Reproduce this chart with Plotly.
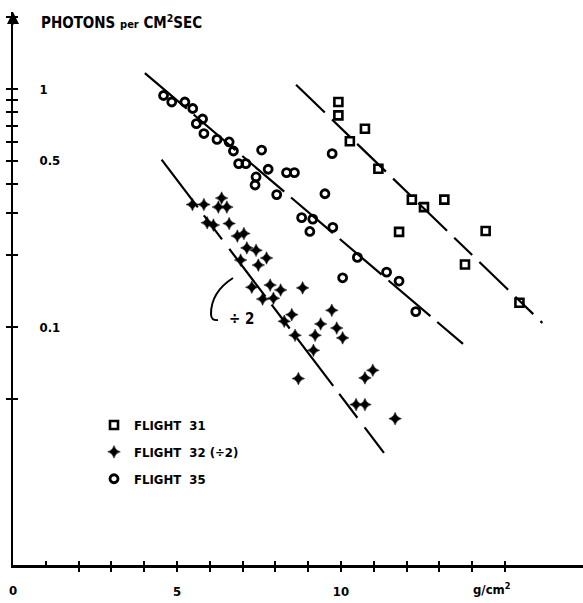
import plotly.graph_objects as go

# ---------------- data ----------------
f31_x = [9.92, 9.92, 10.73, 10.27, 11.14, 12.16, 12.53, 13.15, 11.77, 14.41, 13.78, 15.44]
f31_y = [0.882, 0.775, 0.681, 0.603, 0.462, 0.343, 0.319, 0.343, 0.251, 0.253, 0.183, 0.1265]

f32_x = [5.47, 5.82, 6.36, 6.26, 6.52, 5.92, 6.11, 6.59, 6.84, 7.04, 7.13, 7.41,
         6.94, 7.73, 7.48, 7.84, 7.28, 8.16, 7.61, 7.94, 8.83, 9.72, 8.50, 8.27,
         9.38, 9.87, 10.05, 8.60, 9.21, 9.16, 10.97, 10.73, 8.70, 10.46, 10.73, 11.65]
f32_y = [0.327, 0.327, 0.348, 0.319, 0.319, 0.274, 0.268, 0.272, 0.241, 0.247, 0.215, 0.210,
         0.191, 0.195, 0.182, 0.150, 0.147, 0.143, 0.131, 0.132, 0.146, 0.1175, 0.1127, 0.1057,
         0.103, 0.099, 0.090, 0.0923, 0.0923, 0.0798, 0.0658, 0.0611, 0.0607, 0.0472, 0.0472, 0.0412]

f35_x = [4.59, 4.84, 5.24, 5.48, 5.78, 5.59, 5.82, 6.22, 6.59, 6.72, 6.88, 7.10,
         7.58, 7.78, 7.41, 7.38, 8.34, 8.58, 8.04, 9.51, 8.80, 9.14, 9.05, 9.75,
         10.50, 10.05, 11.39, 11.77, 12.28, 9.73]
f35_y = [0.939, 0.882, 0.882, 0.828, 0.748, 0.715, 0.650, 0.614, 0.599, 0.549, 0.486, 0.486,
         0.554, 0.460, 0.427, 0.395, 0.445, 0.445, 0.360, 0.363, 0.288, 0.284, 0.252, 0.262,
         0.196, 0.161, 0.170, 0.156, 0.116, 0.535]

# fitted lines (end points)
fit31_x = [8.63, 16.14]
fit31_y = [1.042, 0.104]
fit32_x = [4.53, 11.31]
fit32_y = [0.505, 0.0296]
fit35_x = [4.02, 13.72]
fit35_y = [1.167, 0.0849]

x_tickvals = list(range(0, 16))
x_ticktext = ["5" if v == 5 else "10" if v == 10 else "" for v in x_tickvals]
x_zero_label = "0"
y_tickvals = [2, 1, 0.9, 0.8, 0.7, 0.6, 0.5, 0.4, 0.3, 0.2, 0.1, 0.05]
y_ticktext = ["", "1", "", "", "", "", "0.5", "", "", "", "0.1", ""]

# ---------------- figure ----------------
FONT = "DejaVu Sans Condensed, Liberation Sans Narrow, Roboto Condensed, sans-serif"
W, H = 583, 603
ML, MR, MT, MB = 13, 0, 12, 38
PX_PER_X = 32.8
PX_PER_DEC = 238.0
plot_w = W - ML - MR
plot_h = H - MT - MB
x_max = plot_w / PX_PER_X
y_top = -2 + plot_h / PX_PER_DEC

fig = go.Figure()

for fx, fy, dash in [(fit35_x, fit35_y, "55px,9px"),
                     (fit31_x, fit31_y, "40px,10px,25px,10px"),
                     (fit32_x, fit32_y, "60px,10px,30px,12px")]:
    fig.add_trace(go.Scatter(x=fx, y=fy, mode="lines",
                             line=dict(color="black", width=2.2, dash=dash),
                             showlegend=False, hoverinfo="skip"))

fig.add_trace(go.Scatter(x=f31_x, y=f31_y, mode="markers", name="FLIGHT  31",
                         legendgroup="a",
                         marker=dict(symbol="square-open", size=8, color="black",
                                     line=dict(width=2.6, color="black"))))
fig.add_trace(go.Scatter(x=f32_x, y=f32_y, mode="markers", name="FLIGHT  32 (÷2)",
                         legendgroup="b",
                         marker=dict(symbol="star-diamond", size=9, color="black",
                                     line=dict(width=0.5, color="black"))))
fig.add_trace(go.Scatter(x=f35_x, y=f35_y, mode="markers", name="FLIGHT  35",
                         legendgroup="c",
                         marker=dict(symbol="circle-open", size=8, color="black",
                                     line=dict(width=2.8, color="black"))))

# dummy trace for overlay axes (tick marks on the other side)
fig.add_trace(go.Scatter(x=[], y=[], xaxis="x2", yaxis="y2", showlegend=False))

def px_to_paper(px, py):
    return (px - ML) / plot_w, (H - MB - py) / plot_h

tx, ty = px_to_paper(39, 22)
fig.add_annotation(x=tx, y=ty, xref="paper", yref="paper", xanchor="left", yanchor="middle",
                   showarrow=False,
                   text="PHOTONS <span style='font-size:11px'>per</span> CM<sup>2</sup>SEC",
                   font=dict(family=FONT, size=15, color="black", weight="bold"))

zx, zy = px_to_paper(14, 590)
fig.add_annotation(x=0, y=zy, xref="x", yref="paper", xanchor="center", yanchor="middle",
                   showarrow=False, text=x_zero_label,
                   font=dict(family=FONT, size=13, color="black", weight="bold"))

gx, gy = px_to_paper(492, 589)
fig.add_annotation(x=gx, y=gy, xref="paper", yref="paper", xanchor="center", yanchor="middle",
                   showarrow=False, text="g/cm<sup>2</sup>",
                   font=dict(family=FONT, size=13, color="black", weight="bold"))

dx, dy = px_to_paper(241, 319)
fig.add_annotation(x=dx, y=dy, xref="paper", yref="paper", xanchor="center", yanchor="middle",
                   showarrow=False, text="÷ 2",
                   font=dict(family=FONT, size=15, color="black", weight="bold"))

# brace next to ÷2
p0 = px_to_paper(233, 278)
c1 = px_to_paper(211, 292)
p1 = px_to_paper(211, 314)
c2 = px_to_paper(211, 321)
p2 = px_to_paper(218, 320)
path = (f"M {p0[0]},{p0[1]} Q {c1[0]},{c1[1]} {p1[0]},{p1[1]} "
        f"Q {c2[0]},{c2[1]} {p2[0]},{p2[1]}")
fig.add_shape(type="path", path=path, xref="paper", yref="paper",
              line=dict(color="black", width=2))

# arrow at top of y axis
fig.add_annotation(x=0, y=1, xref="x", yref="paper", ax=0, ay=14, showarrow=True,
                   arrowhead=2, arrowsize=1.2, arrowwidth=2, arrowcolor="black", text="")

lx, ly = px_to_paper(94, 410)
fig.update_layout(
    width=W, height=H,
    margin=dict(l=ML, r=MR, t=MT, b=MB, pad=0),
    paper_bgcolor="white", plot_bgcolor="white",
    font=dict(family=FONT, size=13, color="black", weight="bold"),
    showlegend=True,
    legend=dict(x=lx, y=ly, xanchor="left", yanchor="top", bgcolor="rgba(0,0,0,0)",
                font=dict(family=FONT, size=13, color="black", weight="bold"),
                tracegroupgap=7, itemwidth=30),
    xaxis=dict(range=[0, x_max], showgrid=False, zeroline=False, showline=True,
               linecolor="black", linewidth=2.5, ticks="outside", ticklen=4, tickwidth=2,
               tickcolor="black", tickvals=x_tickvals, ticktext=x_ticktext,
               ticklabelstandoff=9,
               tickfont=dict(family=FONT, size=13, color="black", weight="bold")),
    yaxis=dict(type="log", range=[-2, y_top], showgrid=False, zeroline=False, showline=True,
               linecolor="black", linewidth=2.2, ticks="outside", ticklen=5, tickwidth=2,
               tickcolor="black", tickvals=y_tickvals, ticktext=y_ticktext,
               ticklabelposition="inside", ticklabelstandoff=26,
               tickfont=dict(family=FONT, size=13, color="black", weight="bold")),
    xaxis2=dict(overlaying="x", anchor="y", side="bottom", range=[0, x_max],
                showgrid=False, zeroline=False, showline=False, ticks="inside",
                ticklen=4, tickwidth=2, tickcolor="black", tickvals=x_tickvals,
                showticklabels=False),
    yaxis2=dict(overlaying="y", anchor="x", side="left", type="log", range=[-2, y_top],
                showgrid=False, zeroline=False, showline=False, ticks="inside",
                ticklen=5, tickwidth=2, tickcolor="black", tickvals=y_tickvals,
                showticklabels=False),
)

fig.write_html("out.html")
